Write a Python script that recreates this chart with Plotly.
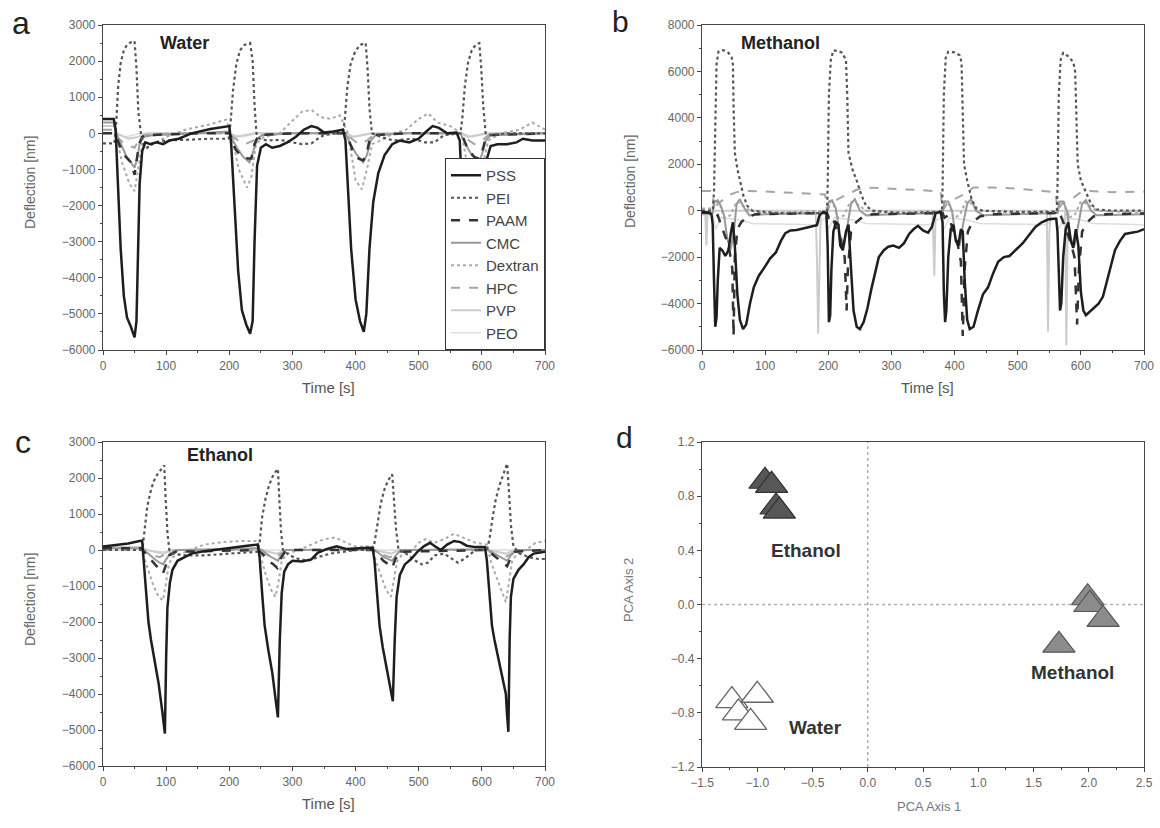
import plotly.graph_objects as go
from plotly.subplots import make_subplots

# ---- (time [s], deflection [nm]) ----
# a: Water
A_PSS = [(0, 400), (17, 400), (20, 100), (24, -1500), (28, -3200), (33, -4500), (38, -5100), (44, -5350),
         (50, -5650), (53, -5200), (55, -3500), (58, -1400), (62, -500), (67, -250), (75, -300), (85, -250),
         (95, -300), (105, -200), (120, -150), (140, 0), (170, 120), (200, 200), (203, -300), (208, -2000),
         (214, -3800), (220, -4900), (227, -5300), (233, -5550), (237, -5200), (240, -3000), (244, -900),
         (250, -400), (258, -300), (268, -400), (280, -350), (292, -250), (305, -100), (318, 100), (330, 200),
         (340, 150), (350, 20), (365, 50), (380, 100), (384, -200), (388, -1500), (393, -3200), (400, -4600),
         (407, -5200), (413, -5500), (417, -5000), (422, -3200), (428, -1900), (436, -1100), (446, -600),
         (458, -300), (470, -200), (485, -250), (500, -150), (512, 50), (522, 200), (532, 150), (545, 0),
         (560, 20), (565, -200), (569, -1800), (575, -3600), (582, -4800), (590, -5300), (597, -5500),
         (601, -4000), (604, -2000), (608, -700), (614, -350), (625, -300), (640, -300), (655, -250),
         (665, -150), (680, -200), (700, -200)]
A_PEI = [(0, -280), (18, -280), (21, 300), (24, 1300), (28, 1950), (33, 2300), (38, 2450), (44, 2520),
         (50, 2550), (53, 1800), (56, 600), (60, 0), (65, -350), (70, -400), (80, -250), (100, -200),
         (130, -180), (170, -150), (199, -150), (202, 300), (206, 1200), (211, 1900), (217, 2300),
         (224, 2450), (233, 2500), (237, 2000), (240, 800), (243, 0), (248, -150), (260, -200), (280, -180),
         (300, -250), (315, -300), (330, -280), (340, -150), (350, -50), (370, 0), (380, 0), (383, 400),
         (387, 1300), (392, 1900), (399, 2250), (407, 2450), (416, 2500), (419, 1800), (422, 700), (426, 0),
         (440, -100), (460, -200), (490, -150), (510, -250), (525, -250), (540, -50), (566, 0), (569, 400),
         (573, 1300), (578, 1950), (584, 2300), (590, 2450), (596, 2500), (599, 1800), (602, 800), (606, 0),
         (615, -50), (640, 0), (700, 0)]
A_PAAM = [(0, 0), (18, 0), (21, -100), (28, -400), (36, -650), (44, -800), (50, -1150), (53, -800),
          (57, -300), (62, -100), (70, -50), (150, 0), (200, 0), (203, -100), (210, -450), (220, -650),
          (230, -700), (235, -700), (240, -300), (246, -50), (300, 0), (383, 0), (387, -100), (395, -450),
          (405, -700), (412, -750), (417, -600), (422, -200), (430, -50), (480, 0), (566, 0), (570, -100),
          (578, -450), (588, -650), (595, -700), (600, -550), (605, -200), (612, -50), (700, 0)]
A_CMC = [(0, 300), (17, 300), (20, 50), (28, -300), (36, -600), (44, -800), (50, -950), (54, -700),
         (58, -300), (64, -100), (80, -50), (150, 0), (200, 50), (203, -100), (212, -400), (222, -650),
         (232, -800), (238, -500), (244, -150), (252, -50), (300, 0), (384, 0), (392, -300), (402, -600),
         (412, -800), (418, -600), (424, -200), (432, -50), (480, 0), (566, 0), (574, -300), (584, -600),
         (594, -800), (600, -600), (606, -200), (614, -50), (700, 0)]
A_DEXTRAN = [(0, 0), (20, 0), (30, -800), (42, -1400), (50, -1600), (56, -1000), (62, -300), (70, -400),
             (80, -300), (100, -100), (130, 100), (170, 250), (195, 380), (203, 0), (215, -1000),
             (228, -1500), (235, -1200), (242, -300), (255, -100), (280, 0), (300, 350), (315, 600),
             (330, 650), (345, 450), (360, 400), (375, 500), (388, 0), (400, -1300), (410, -1550),
             (418, -1000), (426, -300), (440, -200), (460, 0), (480, 100), (500, 400), (515, 550),
             (530, 300), (550, 200), (568, 0), (580, -1200), (592, -1500), (600, -1000), (610, -200),
             (630, 0), (660, 100), (680, 300), (700, 100)]
A_HPC = [(0, 100), (18, 100), (22, -100), (35, -300), (50, -400), (56, -200), (65, -50), (120, 0), (200, 0),
         (205, -100), (225, -300), (238, -200), (248, -50), (300, 0), (385, 0), (390, -100), (405, -300),
         (418, -200), (428, -50), (480, 0), (568, 0), (572, -100), (588, -300), (600, -200), (610, -50),
         (700, 0)]
A_PVP = [(0, 200), (18, 200), (22, 0), (40, -150), (55, -100), (70, 0), (200, 0), (210, -100), (240, 0),
         (385, 0), (395, -100), (425, 0), (568, 0), (578, -100), (608, 0), (700, 0)]
A_PEO = [(0, 0), (18, 0), (35, -100), (60, 0), (200, 0), (220, -100), (245, 0), (385, 0), (400, -100),
         (428, 0), (568, 0), (585, -100), (610, 0), (700, 0)]

# b: Methanol
B_PSS = [(0, -50), (10, -80), (15, -150), (17, -600), (19, -3000), (21, -5000), (23, -4600), (25, -3000),
         (28, -1600), (32, -1700), (37, -1950), (42, -1700), (46, -900), (49, -500), (52, -1500),
         (56, -3600), (60, -4700), (65, -5100), (70, -4900), (76, -4000), (82, -3300), (90, -2800),
         (100, -2400), (108, -2050), (117, -1800), (125, -1300), (132, -970), (140, -850), (150, -830),
         (162, -760), (172, -700), (182, -620), (186, -200), (192, -50), (197, -100), (199, -1500),
         (201, -4800), (203, -4500), (205, -2500), (208, -900), (212, -500), (216, -600), (219, -1500),
         (223, -1700), (228, -900), (232, -600), (236, -2500), (240, -4300), (245, -5000), (250, -5100),
         (256, -4800), (262, -4200), (268, -3400), (274, -2700), (280, -2000), (288, -1700), (295, -1550),
         (303, -1500), (312, -1600), (320, -1400), (328, -1000), (335, -800), (342, -650), (350, -850),
         (358, -950), (364, -700), (370, -100), (378, -50), (381, -500), (383, -3500), (385, -4800),
         (387, -4300), (390, -2000), (394, -800), (398, -600), (402, -1300), (406, -1500), (410, -800),
         (413, -900), (416, -3000), (420, -4700), (424, -5100), (430, -5000), (437, -4300), (445, -3600),
         (453, -3300), (461, -2700), (469, -2200), (478, -2000), (487, -1950), (497, -1700), (508, -1400),
         (518, -1050), (528, -700), (538, -500), (548, -380), (556, -350), (561, -350), (563, -900),
         (565, -3200), (567, -4300), (569, -4000), (572, -2000), (576, -800), (580, -500), (584, -1300),
         (588, -1600), (592, -800), (596, -1500), (600, -3500), (604, -4300), (608, -4500), (614, -4350),
         (620, -4200), (628, -4000), (635, -3700), (642, -3000), (648, -2300), (654, -1700), (662, -1300),
         (670, -1000), (680, -950), (690, -900), (700, -800)]
B_PEI = [(0, 0), (17, 0), (19, 800), (21, 4500), (23, 6300), (26, 6850), (30, 6920), (36, 6900),
         (42, 6800), (47, 6600), (49, 6300), (50, 4500), (52, 2500), (56, 1800), (61, 1200), (66, 600),
         (72, 200), (80, 0), (120, -100), (198, -100), (199, 1000), (201, 5000), (204, 6500), (208, 6900),
         (215, 6900), (222, 6800), (228, 6500), (230, 5000), (232, 2500), (238, 1800), (245, 1300),
         (252, 700), (260, 200), (270, 0), (320, -100), (380, -50), (381, 1000), (383, 5000), (386, 6600),
         (390, 6850), (400, 6820), (408, 6700), (411, 6400), (413, 4500), (415, 2000), (420, 1300),
         (427, 500), (434, 100), (445, 0), (500, -50), (562, -50), (563, 1000), (565, 5000), (568, 6500),
         (572, 6800), (580, 6650), (588, 6400), (591, 6000), (593, 4000), (595, 2000), (600, 1300),
         (608, 800), (616, 300), (625, 50), (650, 0), (700, 0)]
B_PAAM = [(0, -100), (17, -100), (20, -300), (25, -200), (30, -600), (38, -1200), (44, -1800), (48, -2500),
          (50, -5400), (52, -2000), (56, -800), (62, -500), (70, -300), (85, -150), (150, -120), (198, -100),
          (201, -300), (206, -200), (212, -700), (220, -1300), (226, -2000), (229, -4300), (231, -2500),
          (236, -900), (244, -500), (255, -250), (270, -150), (350, -120), (381, -100), (384, -300),
          (390, -200), (396, -700), (404, -1300), (410, -2200), (413, -5400), (416, -2500), (421, -900),
          (428, -500), (440, -250), (460, -150), (560, -100), (563, -300), (568, -200), (575, -700),
          (583, -1300), (590, -2000), (594, -4900), (597, -2500), (602, -900), (610, -500), (620, -250),
          (640, -150), (700, -120)]
B_CMC = [(0, -100), (17, -100), (20, 400), (25, 450), (30, 200), (35, -200), (40, -1200), (45, -1700),
         (50, -1000), (55, 300), (60, 500), (65, 200), (75, -200), (100, -150), (198, -100), (201, 400),
         (206, 450), (212, 100), (218, -1000), (225, -1500), (230, -700), (236, 300), (242, 500), (250, 0),
         (260, -200), (300, -150), (381, -100), (384, 400), (390, 400), (396, 0), (402, -1200),
         (408, -1500), (414, -500), (420, 300), (426, 500), (434, 0), (445, -200), (500, -150), (563, -100),
         (566, 400), (572, 400), (578, 0), (584, -1200), (590, -1500), (596, -500), (602, 300), (608, 450),
         (616, 0), (625, -200), (700, -150)]
B_DEXTRAN = [(0, 100), (17, 100), (22, 400), (28, 300), (35, -300), (45, -200), (55, 400), (62, 300),
             (75, 0), (100, -100), (198, 0), (202, 400), (208, 300), (215, -300), (225, -200), (235, 400),
             (245, 300), (260, 0), (300, -100), (381, 0), (385, 400), (391, 300), (398, -300), (408, -200),
             (418, 400), (428, 300), (440, 0), (500, -100), (563, 0), (567, 400), (573, 300), (580, -300),
             (590, -200), (600, 400), (610, 300), (625, 0), (700, -100)]
B_HPC = [(0, 850), (17, 850), (19, 0), (25, 300), (35, 500), (45, 700), (55, 800), (65, 850), (100, 830),
         (150, 760), (195, 700), (198, 0), (205, 300), (215, 500), (230, 700), (245, 900), (260, 1000),
         (300, 950), (350, 880), (378, 820), (381, 0), (388, 300), (400, 500), (415, 700), (430, 1000),
         (460, 1000), (500, 950), (540, 850), (560, 800), (563, 0), (570, 300), (585, 500), (600, 800),
         (615, 850), (650, 800), (700, 820)]
B_PVP = [(0, 0), (5, 0), (7, -1500), (9, 0), (180, 0), (182, -2000), (184, -5300), (186, -2000), (188, 0),
         (365, 0), (366, -1500), (368, -2800), (370, 0), (546, 0), (547, -2500), (548, -5200), (550, -1000),
         (552, 0), (575, 0), (576, -3000), (577, -5800), (579, -1000), (581, 0), (700, 0)]
B_PEO = [(0, -200), (17, -200), (22, -800), (30, -300), (60, -400), (80, -550), (180, -600), (196, -300),
         (200, -800), (210, -300), (240, -400), (260, -550), (360, -600), (378, -300), (383, -800),
         (392, -300), (420, -400), (440, -550), (545, -600), (560, -300), (565, -800), (574, -300),
         (600, -400), (620, -550), (700, -600)]

# c: Ethanol
C_PSS = [(0, 100), (20, 130), (40, 180), (58, 250), (62, 260), (64, -200), (68, -1200), (72, -2000),
         (76, -2500), (82, -3100), (88, -3700), (94, -4500), (98, -5100), (100, -3000), (102, -1600),
         (106, -900), (110, -550), (118, -300), (128, -200), (140, -100), (155, -50), (175, 0), (200, 60),
         (225, 110), (245, 150), (248, -200), (252, -1200), (256, -2100), (262, -2800), (268, -3400),
         (273, -4100), (277, -4650), (280, -2500), (283, -1200), (287, -600), (293, -400), (300, -300),
         (315, -320), (330, -260), (340, -80), (355, 30), (370, 100), (385, 30), (400, 50), (420, 60),
         (427, 60), (430, -300), (434, -1200), (438, -2100), (443, -2700), (449, -3300), (455, -3800),
         (459, -4200), (462, -2500), (465, -1300), (470, -700), (478, -400), (488, -250), (498, -50),
         (508, 100), (518, 200), (526, 100), (535, 0), (545, 150), (556, 250), (566, 220), (576, 120),
         (590, 80), (605, 80), (608, -300), (612, -1300), (616, -2100), (620, -2500), (626, -3000),
         (632, -3500), (638, -4000), (640, -4600), (642, -5050), (644, -2500), (646, -1300), (650, -800),
         (658, -550), (666, -400), (674, -200), (682, -100), (700, -50)]
C_PEI = [(0, 0), (60, 0), (63, 100), (66, 600), (70, 1200), (75, 1600), (80, 1900), (86, 2100), (92, 2250),
         (97, 2350), (99, 1500), (102, 500), (105, 0), (110, -100), (130, -150), (160, -150), (200, -100),
         (245, -50), (248, 200), (252, 900), (257, 1400), (263, 1800), (270, 2100), (277, 2250), (279, 1500),
         (282, 500), (285, 0), (295, -150), (310, -250), (325, -300), (340, -200), (360, -100), (400, 0),
         (427, 0), (430, 200), (435, 800), (440, 1300), (446, 1700), (452, 1950), (458, 2100), (461, 1400),
         (464, 600), (468, 0), (480, -100), (495, -300), (505, -400), (515, -350), (525, -150), (540, -100),
         (552, -250), (562, -350), (572, -250), (590, 0), (608, 0), (612, 300), (617, 900), (622, 1400),
         (628, 1800), (634, 2100), (640, 2400), (643, 1600), (646, 700), (650, 100), (660, -100),
         (675, -200), (690, -250), (700, -250)]
C_PAAM = [(0, 50), (60, 50), (65, -50), (75, -250), (85, -450), (95, -650), (100, -400), (105, -150),
          (115, -50), (245, 0), (252, -100), (262, -300), (270, -400), (276, -500), (281, -250), (288, -50),
          (300, 0), (427, 0), (434, -100), (444, -300), (452, -400), (458, -500), (463, -250), (470, -50),
          (608, 0), (615, -100), (625, -250), (633, -350), (640, -450), (645, -250), (652, -50), (700, 0)]
C_CMC = [(0, 50), (60, 50), (65, 0), (75, -150), (85, -300), (95, -400), (100, -250), (106, -100), (120, 0),
         (245, 50), (252, 0), (262, -150), (272, -250), (277, -300), (282, -150), (290, 0), (427, 20),
         (434, -50), (445, -200), (458, -300), (464, -150), (472, 0), (608, 20), (615, -50), (628, -200),
         (640, -300), (646, -150), (655, 0), (700, 0)]
C_DEXTRAN = [(0, 0), (60, 0), (65, -200), (72, -600), (80, -1000), (88, -1300), (95, -1400), (100, -900),
             (104, -400), (110, -200), (125, -100), (140, 0), (160, 150), (190, 220), (220, 250), (245, 250),
             (250, -200), (258, -700), (266, -1100), (273, -1300), (278, -900), (283, -300), (292, -100),
             (310, 0), (330, 150), (350, 300), (368, 350), (385, 200), (400, 100), (427, 100), (432, -300),
             (440, -700), (448, -1100), (456, -1300), (461, -800), (466, -300), (475, -100), (490, 0),
             (500, 200), (510, 300), (525, 200), (540, 300), (556, 450), (570, 350), (590, 200), (608, 150),
             (614, -300), (622, -700), (630, -1100), (638, -1450), (643, -900), (648, -300), (656, -100),
             (670, 0), (685, 200), (700, 250)]
C_HPC = [(0, 0), (62, 0), (70, -100), (90, -200), (100, -100), (115, 0), (245, 0), (255, -100), (272, -200),
         (282, -100), (295, 0), (427, 0), (437, -100), (455, -200), (465, -100), (478, 0), (607, 0),
         (617, -100), (637, -200), (647, -100), (660, 0), (700, 0)]
C_PVP = [(0, 80), (60, 80), (70, 0), (95, -100), (110, 0), (250, 0), (275, -100), (290, 0), (430, 0),
         (456, -100), (470, 0), (610, 0), (638, -100), (652, 0), (700, 0)]
C_PEO = [(0, 0), (62, 0), (95, -50), (110, 0), (700, 0)]

# d: PCA scores
D_ETHANOL_X = [-0.93, -0.87, -0.83, -0.80]
D_ETHANOL_Y = [0.91, 0.88, 0.72, 0.69]
D_METHANOL_X = [1.99, 2.01, 2.13, 1.73]
D_METHANOL_Y = [0.05, 0.00, -0.11, -0.30]
D_WATER_X = [-1.23, -1.00, -1.17, -1.06]
D_WATER_Y = [-0.71, -0.67, -0.80, -0.87]

SERIES = ['PSS', 'PEI', 'PAAM', 'CMC', 'Dextran', 'HPC', 'PVP', 'PEO']
PANELS = [
    (dict(PSS=A_PSS, PEI=A_PEI, PAAM=A_PAAM, CMC=A_CMC, Dextran=A_DEXTRAN, HPC=A_HPC, PVP=A_PVP, PEO=A_PEO), 1, 1),
    (dict(PSS=B_PSS, PEI=B_PEI, PAAM=B_PAAM, CMC=B_CMC, Dextran=B_DEXTRAN, HPC=B_HPC, PVP=B_PVP, PEO=B_PEO), 1, 2),
    (dict(PSS=C_PSS, PEI=C_PEI, PAAM=C_PAAM, CMC=C_CMC, Dextran=C_DEXTRAN, HPC=C_HPC, PVP=C_PVP, PEO=C_PEO), 2, 1),
]

STYLE = {
    'PSS': dict(color='#1e1e1e', width=2.5, dash='solid'),
    'PEI': dict(color='#555555', width=2.2, dash='dot'),
    'PAAM': dict(color='#333333', width=2.5, dash='dash'),
    'CMC': dict(color='#999999', width=2, dash='solid'),
    'Dextran': dict(color='#aaaaaa', width=2, dash='dot'),
    'HPC': dict(color='#a5a5a5', width=2, dash='dash'),
    'PVP': dict(color='#cccccc', width=2, dash='solid'),
    'PEO': dict(color='#dddddd', width=1.5, dash='solid'),
}

W, H = 1160, 828
FONT = 'Liberation Sans, Arial, sans-serif'


def px(x):
    return x / W


def py(y):
    return 1 - y / H


fig = make_subplots(rows=2, cols=2)

# light series first, PSS on top
for data, r, c in PANELS:
    for name in reversed(SERIES):
        t, y = zip(*data[name])
        fig.add_trace(go.Scatter(x=t, y=y, mode='lines', name=name, line=STYLE[name],
                                 showlegend=(r == 1 and c == 1)), row=r, col=c)

tri = dict(symbol='triangle-up', size=28)
fig.add_trace(go.Scatter(x=D_WATER_X, y=D_WATER_Y, mode='markers', showlegend=False,
                         marker=dict(tri, color='white', line=dict(color='#666', width=1.3))), row=2, col=2)
fig.add_trace(go.Scatter(x=D_ETHANOL_X, y=D_ETHANOL_Y, mode='markers', showlegend=False,
                         marker=dict(tri, color='#575757', line=dict(color='#333', width=1.2))), row=2, col=2)
fig.add_trace(go.Scatter(x=D_METHANOL_X, y=D_METHANOL_Y, mode='markers', showlegend=False,
                         marker=dict(tri, color='#8c8c8c', line=dict(color='#555', width=1.2))), row=2, col=2)
fig.add_hline(y=0, line=dict(color='#b0b0b0', width=1.5, dash='dot'), layer='below', row=2, col=2)
fig.add_vline(x=0, line=dict(color='#b0b0b0', width=1.5, dash='dot'), layer='below', row=2, col=2)

axis_common = dict(showline=True, mirror=True, linecolor='#444', linewidth=1.2, showgrid=False,
                   zeroline=False, ticks='outside', ticklen=4, tickcolor='#444', automargin=False,
                   tickfont=dict(family=FONT, size=12, color='#666'))

dom_x_left = [px(103), px(545)]
dom_x_right = [px(702), px(1144)]
dom_y_top = [py(350), py(25)]
dom_y_bot = [py(766), py(442)]

time_axis = dict(axis_common, range=[0, 700], dtick=100, tick0=0,
                 minor=dict(ticks='outside', ticklen=2, dtick=50, tickcolor='#444'))
fig.update_layout(
    xaxis=dict(time_axis, domain=dom_x_left),
    xaxis2=dict(time_axis, domain=dom_x_right),
    xaxis3=dict(time_axis, domain=dom_x_left),
    xaxis4=dict(axis_common, domain=dom_x_right, range=[-1.5, 2.5], dtick=0.5, tick0=0, tickformat='.1f',
                minor=dict(ticks='outside', ticklen=2, dtick=0.25, tickcolor='#444')),
    yaxis=dict(axis_common, domain=dom_y_top, range=[-6000, 3000], dtick=1000, tick0=0,
               minor=dict(ticks='outside', ticklen=2, dtick=500, tickcolor='#444')),
    yaxis2=dict(axis_common, domain=dom_y_top, range=[-6000, 8000], dtick=2000, tick0=0,
                minor=dict(ticks='outside', ticklen=2, dtick=1000, tickcolor='#444')),
    yaxis3=dict(axis_common, domain=dom_y_bot, range=[-6000, 3000], dtick=1000, tick0=0,
                minor=dict(ticks='outside', ticklen=2, dtick=500, tickcolor='#444')),
    yaxis4=dict(axis_common, domain=[py(767), py(442)], range=[-1.2, 1.2], dtick=0.4, tick0=0,
                tickformat='.1f', minor=dict(ticks='outside', ticklen=2, dtick=0.2, tickcolor='#444')),
)

annotations = []


def label(text, x, y, size, color='#222', bold=False, angle=0, ref='paper', xref=None, yref=None):
    annotations.append(dict(text=('<b>%s</b>' % text) if bold else text, x=x, y=y,
                            xref=xref or ref, yref=yref or ref, showarrow=False, textangle=angle,
                            xanchor='center', yanchor='middle',
                            font=dict(family=FONT, size=size, color=color)))


# panel letters
label('a', px(21), py(23), 32)
label('b', px(620), py(21), 30)
label('c', px(23), py(442), 32)
label('d', px(624), py(437), 30)
# solvent titles
label('Water', px(184), py(43), 18, bold=True)
label('Methanol', px(780), py(43), 18, bold=True)
label('Ethanol', px(220), py(455), 18, bold=True)
# axis titles
for xc, yc in [(30, 183), (630, 182), (30, 600)]:
    label('Deflection [nm]', px(xc), py(yc), 14, color='#666', angle=-90)
for xc, yc in [(328, 387), (927, 387), (328, 803)]:
    label('Time [s]', px(xc), py(yc), 15, color='#555')
label('PCA Axis 2', px(628), py(590), 13, color='#777', angle=-90)
label('PCA Axis 1', px(929), py(806), 13, color='#777')
# PCA cluster labels
label('Ethanol', -0.56, 0.40, 19, color='#333', bold=True, xref='x4', yref='y4')
label('Methanol', 1.85, -0.50, 19, color='#333', bold=True, xref='x4', yref='y4')
label('Water', -0.47, -0.91, 19, color='#333', bold=True, xref='x4', yref='y4')

fig.update_layout(
    width=W, height=H, margin=dict(l=0, r=0, t=0, b=0),
    paper_bgcolor='white', plot_bgcolor='white',
    font=dict(family=FONT, color='#444'),
    annotations=annotations,
    legend=dict(x=px(545), xanchor='right', y=py(350), yanchor='bottom', bgcolor='white',
                bordercolor='#333', borderwidth=1, traceorder='reversed', tracegroupgap=0,
                font=dict(family=FONT, size=15, color='#444')),
)

# page body has a default 8px margin; drop it so the figure fills the window
fig.write_html('out.html', config={'displayModeBar': False},
               post_script="document.body.style.margin='0';")
